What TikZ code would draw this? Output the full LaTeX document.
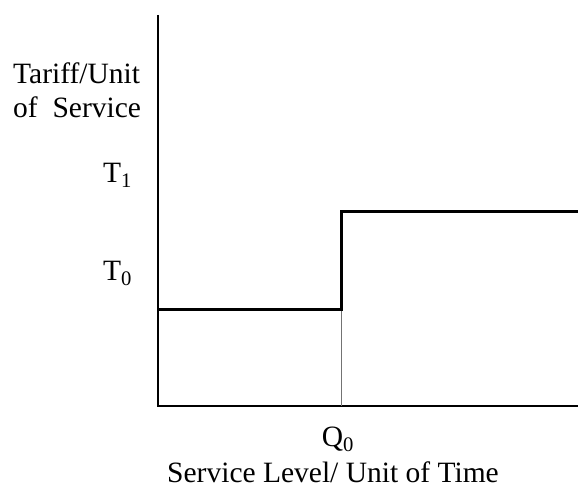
\documentclass[tikz,border=0pt]{standalone}
\usepackage{fontspec}
\setmainfont{Liberation Serif}
\begin{document}
\begin{tikzpicture}[x=1pt,y=-1pt,
  axis/.style={line width=1.5pt,black},
  tariff/.style={line width=3pt,black,line join=miter},
  guide/.style={line width=1pt,black!55},
  lbl/.style={font=\fontsize{29.5}{34}\selectfont,inner sep=0pt}]
\useasboundingbox (0,0) rectangle (578,487);
% axes
\coordinate (top) at (158,15);
\coordinate (origin) at (158,406);
\coordinate (xend) at (578,406);
\draw[axis] (top) -- (origin) -- (xend);
% step tariff
\coordinate (lowstart) at (158,309);
\coordinate (lowend) at (341,309);
\coordinate (highstart) at (341,211);
\coordinate (highend) at (578,211);
\coordinate (qfoot) at (341,406);
\draw[guide] (lowend) -- (qfoot);
\draw[tariff] (lowstart) -- (lowend) -- (highstart) -- (highend);
% labels
\node[lbl,anchor=base west] (ylab1) at (13,83) {Tariff/Unit};
\node[lbl,anchor=base west] (ylab2) at (13,117) {of\ \ Service};
\node[lbl,anchor=base west] (t1) at (103,182) {T\textsubscript{1}};
\node[lbl,anchor=base west] (t0) at (103,280) {T\textsubscript{0}};
\node[lbl,anchor=base] (q0) at (338,446) {Q\textsubscript{0}};
\node[lbl,anchor=base] (xlab) at (333,482) {Service Level/ Unit of Time};
\end{tikzpicture}
\end{document}
